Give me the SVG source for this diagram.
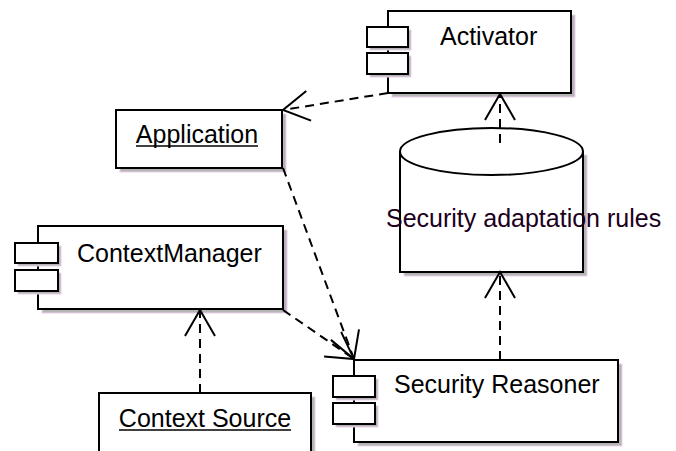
<svg xmlns="http://www.w3.org/2000/svg" width="676" height="451" viewBox="0 0 676 451">
<style>
.box{fill:#fff;stroke:#000;stroke-width:2}
.sh{fill:#b4b4b4;stroke:#ecd0ec;stroke-width:1}
.t{font-family:"Liberation Sans",Arial,sans-serif;font-size:25px;fill:#000}
.ul{stroke:#000;stroke-width:1.5}
.conn line{stroke:#000;stroke-width:2;stroke-dasharray:9,6;fill:none}
</style>
<defs>
<marker id="open" markerUnits="userSpaceOnUse" viewBox="-30 -20 35 40" refX="0" refY="0" markerWidth="35" markerHeight="40" orient="auto" overflow="visible">
<path d="M-26,-15 L0,0 L-26,15" fill="none" stroke="#000" stroke-width="2"/>
</marker>
</defs>
<rect width="676" height="451" fill="#fff"/>

<g id="activator">
<rect class="sh" x="392" y="15" width="183" height="82"/>
<rect class="box" x="388" y="11" width="183" height="82"/>
<rect class="sh" x="370" y="30" width="41" height="20"/>
<rect class="box" x="367" y="27" width="41" height="20"/>
<rect class="sh" x="370" y="56" width="41" height="21"/>
<rect class="box" x="367" y="53" width="41" height="21"/>
<text class="t" x="440" y="45">Activator</text>
</g>

<g id="application">
<rect class="sh" x="120" y="114" width="166" height="58"/>
<rect class="box" x="116" y="110" width="166" height="58"/>
<text class="t" x="197" y="143" text-anchor="middle">Application</text>
<line class="ul" x1="136" y1="146" x2="258" y2="146"/>
</g>

<g id="rules">
<path d="M404,155 L404,276 L587,276 L587,155 Z" fill="#b4b4b4" stroke="#ecd0ec" stroke-width="1"/>
<path class="box" d="M400,151.5 L400,272 L583,272 L583,151.5"/>
<ellipse class="box" cx="491.5" cy="151.5" rx="91.5" ry="23.5"/>
<text class="t" x="386" y="227" style="fill:#1c001c">Security adaptation rules</text>
</g>

<g id="contextmanager">
<rect class="sh" x="42" y="230" width="245" height="83"/>
<rect class="box" x="38" y="226" width="245" height="83"/>
<rect class="sh" x="18" y="246" width="43" height="20"/>
<rect class="box" x="15" y="243" width="43" height="20"/>
<rect class="sh" x="18" y="273" width="43" height="21"/>
<rect class="box" x="15" y="270" width="43" height="21"/>
<text class="t" x="77" y="262">ContextManager</text>
</g>

<g id="contextsource">
<rect class="sh" x="103" y="397" width="212" height="70"/>
<rect class="box" x="99" y="393" width="212" height="70"/>
<text class="t" x="205" y="427" text-anchor="middle">Context Source</text>
<line class="ul" x1="119" y1="430" x2="291" y2="430"/>
</g>

<g id="securityreasoner">
<rect class="sh" x="358" y="364" width="264" height="82"/>
<rect class="box" x="354" y="360" width="264" height="82"/>
<rect class="sh" x="336" y="379" width="42" height="21"/>
<rect class="box" x="333" y="376" width="42" height="21"/>
<rect class="sh" x="336" y="406" width="42" height="21"/>
<rect class="box" x="333" y="403" width="42" height="21"/>
<text class="t" x="394" y="393">Security Reasoner</text>
</g>

<g class="conn" id="connectors">
<line x1="388" y1="93" x2="283" y2="110" marker-end="url(#open)"/>
<line x1="500" y1="143" x2="500" y2="94" marker-end="url(#open)"/>
<line x1="500" y1="360" x2="500" y2="272" marker-end="url(#open)"/>
<line x1="283" y1="168" x2="354" y2="359" marker-end="url(#open)"/>
<line x1="283" y1="310" x2="354" y2="359" marker-end="url(#open)"/>
<line x1="200" y1="393" x2="200" y2="310" marker-end="url(#open)"/>
</g>
</svg>
